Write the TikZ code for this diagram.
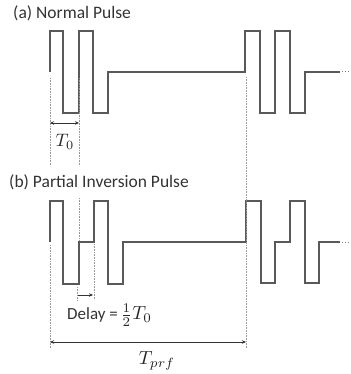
\documentclass[tikz,border=0pt]{standalone}
\usepackage{graphicx}
\usepackage{fontspec}
\setmainfont{Carlito}
\usetikzlibrary{arrows.meta}
\begin{document}
\begin{tikzpicture}[x=1pt,y=-1pt,
  wave/.style={line width=1.2pt, draw=black!65, line join=miter},
  guide/.style={densely dotted, draw=gray!80, line width=0.6pt},
  dim/.style={line width=0.7pt, draw=black!80},
  tip/.style={-{Stealth[length=4pt,width=3.5pt]}},
  tips/.style={{Stealth[length=4pt,width=3.5pt]}-{Stealth[length=4pt,width=3.5pt]}},
  ttl/.style={font=\fontsize{17.5}{20}\selectfont, anchor=west, inner sep=0pt, text=black!80},
  dlt/.style={font=\fontsize{17}{20}\selectfont, anchor=west, inner sep=0pt, text=black!80},
  mth/.style={inner sep=0pt, text=black!85}]
\useasboundingbox (0,0) rectangle (350,374);
% titles
\node[ttl] (ta) at (13,13) {(a) Normal Pulse};
\node[ttl] (tb) at (9,182) {(b) Partial Inversion Pulse};
% waveform (a)
\draw[wave] (50,72) -- (50,31) -- (63,31) -- (63,113) -- (79,113) -- (79,31) -- (93,31) -- (93,113) -- (108,113) -- (108,72) -- (245,72) -- (245,31) -- (260,31) -- (260,113) -- (275,113) -- (275,31) -- (290,31) -- (290,113) -- (305,113) -- (305,72) -- (340,72);
\draw[dotted, line width=1pt, draw=gray] (342,72) -- (350,72);
% waveform (b)
\draw[wave] (50,242) -- (50,201) -- (63,201) -- (63,284) -- (79,284) -- (79,242) -- (94,242) -- (94,201) -- (108,201) -- (108,284) -- (123,284) -- (123,242) -- (246,242) -- (246,201) -- (261,201) -- (261,283) -- (275,283) -- (275,242) -- (290,242) -- (290,201) -- (305,201) -- (305,283) -- (319,283) -- (319,242) -- (340,242);
\draw[dotted, line width=1pt, draw=gray] (342,242) -- (350,242);
% guides
\draw[guide] (50,78) -- (50,166);
\draw[guide] (79,78) -- (79,166);
\draw[guide] (79,198) -- (79,240);
\draw[guide] (94,244) -- (94,300);
\draw[guide] (77.5,287) -- (77.5,300);
\draw[guide] (50,245) -- (50,348);
\draw[guide] (246,77) -- (246,348);
% dimension coordinates
\coordinate (t0a) at (50,123);
\coordinate (t0b) at (79,123);
\coordinate (dla) at (78,295);
\coordinate (dlb) at (93,295);
\coordinate (tpa) at (50,342);
\coordinate (tpb) at (246,342);
\draw[dim, tips] (t0a) -- (t0b);
\draw[dim, tip] (dla) -- (dlb);
\draw[dim, tips] (tpa) -- (tpb);
% labels
\node[mth] (lt0) at (65,142) {\scalebox{1.8}{$T_0$}};
\node[dlt] (ldl) at (67,315) {Delay =};
\node[mth, anchor=west] (lfr) at ([xshift=2pt]ldl.east) {\scalebox{1.9}{$\frac{1}{2}T_0$}};
\node[mth] (ltp) at (157,361) {\scalebox{1.9}{$T_{prf}$}};
\end{tikzpicture}
\end{document}
